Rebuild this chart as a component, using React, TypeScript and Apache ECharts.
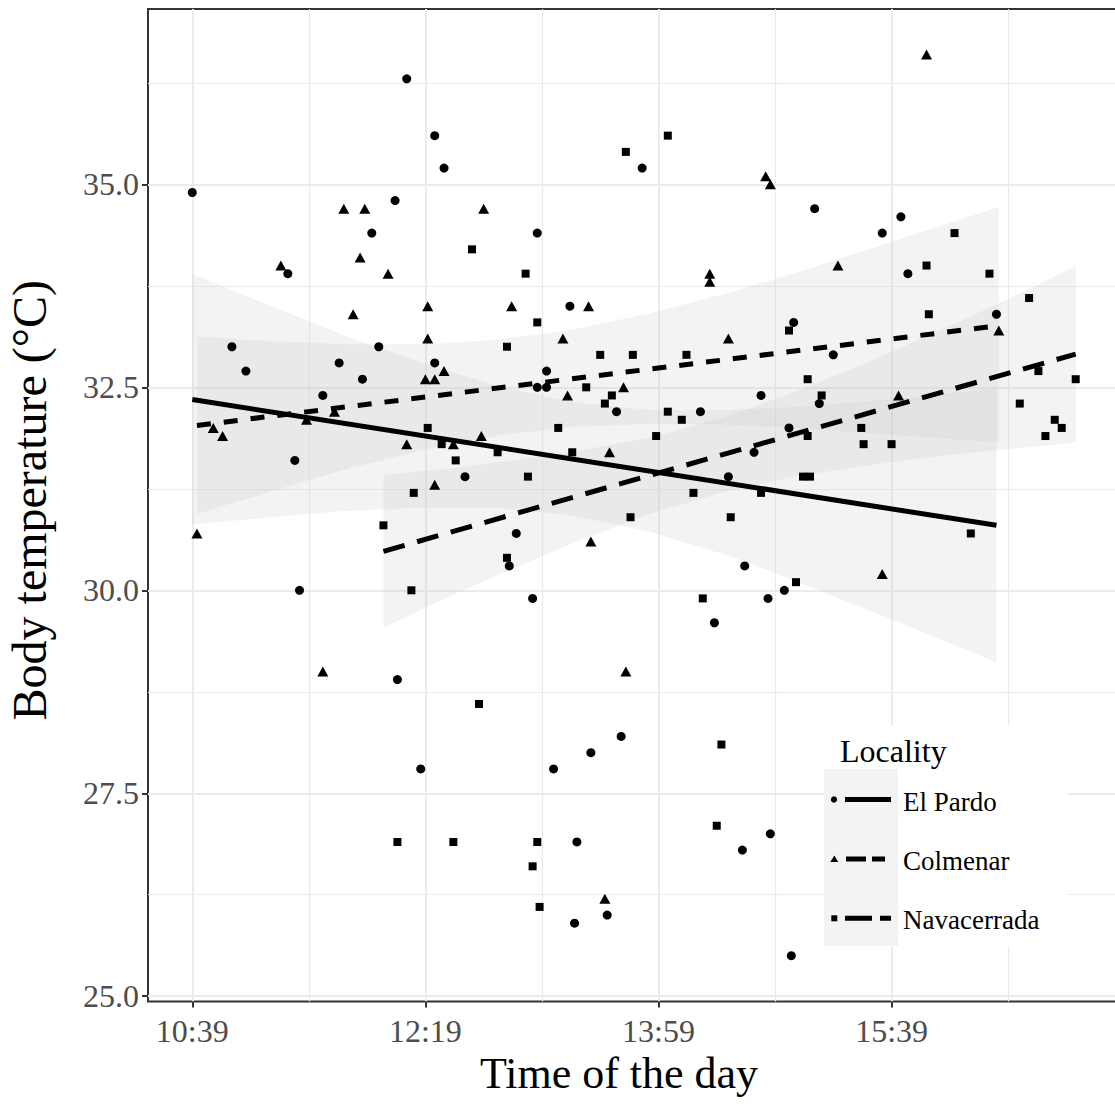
import React, { useEffect, useRef } from "react";
import * as echarts from "echarts";

// ---- data (time "HH:MM", body temperature °C) ----
const elPardoPoints: [string, number][] = [
  ["10:39", 34.9], ["12:11", 36.3], ["12:23", 35.6], ["12:27", 35.2], ["12:06", 34.8],
  ["11:56", 34.4], ["11:20", 33.9], ["13:52", 35.2], ["13:07", 34.4], ["13:21", 33.5],
  ["15:06", 34.7], ["15:43", 34.6], ["15:35", 34.4], ["15:46", 33.9], ["16:24", 33.4],
  ["14:57", 33.3], ["10:56", 33.0], ["11:02", 32.7], ["11:42", 32.8], ["11:59", 33.0],
  ["11:52", 32.6], ["12:23", 32.8], ["11:35", 32.4], ["11:23", 31.6], ["12:36", 31.4],
  ["11:25", 30.0], ["13:11", 32.7], ["13:07", 32.5], ["13:11", 32.5], ["13:41", 32.2],
  ["14:17", 32.2], ["14:43", 32.4], ["14:55", 32.0], ["14:40", 31.7], ["14:29", 31.4],
  ["12:58", 30.7], ["12:55", 30.3], ["13:05", 29.9], ["14:36", 30.3], ["14:23", 29.6],
  ["14:46", 29.9], ["14:53", 30.0], ["15:14", 32.9], ["15:08", 32.3], ["12:07", 28.9],
  ["12:17", 27.8], ["13:43", 28.2], ["13:30", 28.0], ["13:14", 27.8], ["13:24", 26.9],
  ["13:23", 25.9], ["13:37", 26.0], ["14:35", 26.8], ["14:47", 27.0], ["14:56", 25.5],
];

const colmenarPoints: [string, number][] = [
  ["11:44", 34.7], ["11:53", 34.7], ["11:51", 34.1], ["11:17", 34.0], ["12:03", 33.9],
  ["11:48", 33.4], ["12:20", 33.5], ["12:20", 33.1], ["12:44", 34.7], ["12:56", 33.5],
  ["13:29", 33.5], ["13:18", 33.1], ["14:29", 33.1], ["14:21", 33.9], ["14:21", 33.8],
  ["14:45", 35.1], ["14:47", 35.0], ["15:54", 36.6], ["15:16", 34.0], ["16:25", 33.2],
  ["15:42", 32.4], ["15:35", 30.2], ["10:48", 32.0], ["10:52", 31.9], ["11:28", 32.1],
  ["11:40", 32.2], ["12:19", 32.6], ["12:23", 32.6], ["12:27", 32.7], ["12:11", 31.8],
  ["12:31", 31.8], ["12:23", 31.3], ["10:41", 30.7], ["11:35", 29.0], ["12:43", 31.9],
  ["13:20", 32.4], ["13:44", 32.5], ["13:38", 31.7], ["13:30", 30.6], ["13:45", 29.0],
  ["13:36", 26.2],
];

const navacerradaPoints: [string, number][] = [
  ["12:39", 34.2], ["14:03", 35.6], ["13:45", 35.4], ["13:02", 33.9], ["13:07", 33.3],
  ["14:55", 33.2], ["16:06", 34.4], ["15:54", 34.0], ["16:21", 33.9], ["16:38", 33.6],
  ["15:55", 33.4], ["12:54", 33.0], ["13:34", 32.9], ["13:48", 32.9], ["14:11", 32.9],
  ["13:28", 32.5], ["13:39", 32.4], ["13:36", 32.3], ["14:03", 32.2], ["14:09", 32.1],
  ["13:16", 32.0], ["12:50", 31.7], ["13:22", 31.7], ["13:58", 31.9], ["13:03", 31.4],
  ["14:14", 31.2], ["14:43", 31.2], ["13:47", 30.9], ["14:30", 30.9], ["12:54", 30.4],
  ["14:18", 29.9], ["14:58", 30.1], ["15:03", 32.6], ["15:09", 32.4], ["15:03", 31.9],
  ["15:26", 32.0], ["15:27", 31.8], ["15:39", 31.8], ["15:01", 31.4], ["15:04", 31.4],
  ["16:13", 30.7], ["16:42", 32.7], ["16:58", 32.6], ["16:34", 32.3], ["16:49", 32.1],
  ["16:52", 32.0], ["16:45", 31.9], ["12:20", 32.0], ["12:26", 31.8], ["12:32", 31.6],
  ["12:14", 31.2], ["12:01", 30.8], ["12:13", 30.0], ["12:07", 26.9], ["12:31", 26.9],
  ["12:42", 28.6], ["14:26", 28.1], ["13:07", 26.9], ["13:05", 26.6], ["13:08", 26.1],
  ["14:24", 27.1],
];

// fitted lines (start, end)
const elPardoFit: [string, number][] = [["10:39", 32.35], ["16:24", 30.8]];
const colmenarFit: [string, number][] = [["10:41", 32.03], ["16:25", 33.26]];
const navacerradaFit: [string, number][] = [["12:01", 30.48], ["16:58", 32.91]];

// confidence bands
const elPardoBandTimes = ["10:39", "11:12", "11:46", "12:21", "12:51", "13:22", "13:55", "14:30", "14:59", "15:42", "16:24"];
const elPardoBandUpper = [33.9, 33.51, 33.12, 32.77, 32.51, 32.32, 32.22, 32.22, 32.26, 32.36, 32.49];
const elPardoBandLower = [30.81, 30.9, 30.98, 31.02, 31.01, 30.92, 30.72, 30.42, 30.1, 29.61, 29.11];

const colmenarBandTimes = ["10:41", "11:12", "11:46", "12:21", "12:51", "13:22", "13:55", "14:30", "14:59", "15:42", "16:25"];
const colmenarBandUpper = [33.13, 33.07, 33.03, 33.03, 33.09, 33.21, 33.41, 33.67, 33.92, 34.32, 34.72];
const colmenarBandLower = [30.94, 31.21, 31.5, 31.75, 31.91, 32.01, 32.05, 32.04, 32.0, 31.91, 31.82];

const navacerradaBandTimes = ["12:01", "12:29", "12:51", "13:23", "13:55", "14:27", "14:59", "15:32", "16:04", "16:30", "16:58"];
const navacerradaBandUpper = [31.42, 31.5, 31.58, 31.71, 31.88, 32.13, 32.46, 32.85, 33.26, 33.6, 33.99];
const navacerradaBandLower = [29.54, 29.92, 30.2, 30.59, 30.94, 31.21, 31.41, 31.55, 31.67, 31.74, 31.82];

// axes
const xTickLabels = ["10:39", "12:19", "13:59", "15:39"];
const xMinorTicks = ["11:29", "13:09", "14:49", "16:29"];
const yTicks = [25, 27.5, 30, 32.5, 35];
const yMinorTicks = [26.25, 28.75, 31.25, 33.75, 36.25];
const legendNames = ["El Pardo", "Colmenar", "Navacerrada"];

const X_MIN = 620;
const X_MAX = 1037;
const Y_MIN = 24.935;
const Y_MAX = 37.16;

const FONT = '"Liberation Serif", "Times New Roman", serif';
const BAND_FILL = "rgba(200,200,200,0.22)";
const KEY_FILL = "#f3f3f3";

const toMin = (t: string) => {
  const [h, m] = t.split(":").map(Number);
  return h * 60 + m;
};
const fmtTime = (v: number) => {
  const h = Math.floor(v / 60);
  const m = Math.round(v - h * 60);
  return `${h}:${String(m).padStart(2, "0")}`;
};
const pts = (arr: [string, number][]) => arr.map(([t, v]) => [toMin(t), v]);

function bandSeries(times: string[], upper: number[], lower: number[]) {
  const data = times.map((t, i) => [toMin(t), lower[i], upper[i]]);
  return {
    type: "custom",
    silent: true,
    data,
    encode: { x: 0, y: [1, 2] },
    renderItem: (params: any, api: any) => {
      if (params.dataIndex !== 0) return null;
      const up = data.map((d) => api.coord([d[0], d[2]]));
      const lo = data.map((d) => api.coord([d[0], d[1]])).reverse();
      return {
        type: "polygon",
        shape: { points: up.concat(lo) },
        style: { fill: BAND_FILL, stroke: "none" },
      };
    },
  };
}

export default function App() {
  const ref = useRef<HTMLDivElement>(null);
  useEffect(() => {
    if (!ref.current) return;
    const chart = echarts.init(ref.current, undefined, { renderer: "svg" });
    const legendY = [799.5, 859, 918.3];
    const option: any = {
      animation: false,
      backgroundColor: "#ffffff",
      grid: {
        left: 148,
        top: 9,
        width: 972,
        bottom: 102.5,
        show: true,
        borderColor: "#333333",
        borderWidth: 2,
        backgroundColor: "transparent",
        containLabel: false,
        outerBoundsMode: "none",
      },
      xAxis: [
        {
          type: "value",
          min: X_MIN,
          max: X_MAX,
          position: "bottom",
          name: "Time of the day",
          nameLocation: "middle",
          nameGap: 49,
          nameTextStyle: { fontFamily: FONT, fontSize: 44, color: "#000", padding: [0, 30, 0, 0] },
          axisLine: { show: false },
          axisTick: {
            show: true,
            length: 6,
            lineStyle: { color: "#333", width: 2 },
            customValues: xTickLabels.map(toMin),
          },
          axisLabel: {
            show: true,
            margin: 13,
            fontFamily: FONT,
            fontSize: 32,
            color: "#4d4d4d",
            customValues: xTickLabels.map(toMin),
            formatter: (v: number) => fmtTime(v),
          },
          splitLine: { show: true, lineStyle: { color: "#ebebeb", width: 2 } },
        },
        {
          type: "value",
          min: X_MIN,
          max: X_MAX,
          position: "bottom",
          axisLine: { show: false },
          axisTick: { show: false, customValues: xMinorTicks.map(toMin) },
          axisLabel: { show: false, customValues: xMinorTicks.map(toMin) },
          splitLine: { show: true, lineStyle: { color: "#ebebeb", width: 1.2 } },
        },
      ],
      yAxis: [
        {
          type: "value",
          min: Y_MIN,
          max: Y_MAX,
          name: "Body temperature (°C)",
          nameLocation: "middle",
          nameGap: 95,
          nameTextStyle: { fontFamily: FONT, fontSize: 48, color: "#000", padding: [0, 0, 0, 10] },
          axisLine: { show: false },
          axisTick: {
            show: true,
            length: 6,
            lineStyle: { color: "#333", width: 2 },
            customValues: yTicks,
          },
          axisLabel: {
            show: true,
            margin: 9,
            fontFamily: FONT,
            fontSize: 32,
            color: "#4d4d4d",
            customValues: yTicks,
            formatter: (v: number) => v.toFixed(1),
          },
          splitLine: { show: true, lineStyle: { color: "#ebebeb", width: 2 } },
        },
        {
          type: "value",
          min: Y_MIN,
          max: Y_MAX,
          position: "left",
          axisLine: { show: false },
          axisTick: { show: false, customValues: yMinorTicks },
          axisLabel: { show: false, customValues: yMinorTicks },
          splitLine: { show: true, lineStyle: { color: "#ebebeb", width: 1.2 } },
        },
      ],
      series: [
        {
          name: "El Pardo",
          type: "scatter",
          data: pts(elPardoPoints),
          symbol: "circle",
          symbolSize: 9,
          itemStyle: { color: "#000", opacity: 1 },
        },
        {
          name: "Colmenar",
          type: "scatter",
          data: pts(colmenarPoints),
          symbol: "triangle",
          symbolSize: [11, 10],
          itemStyle: { color: "#000", opacity: 1 },
        },
        {
          name: "Navacerrada",
          type: "scatter",
          data: pts(navacerradaPoints),
          symbol: "rect",
          symbolSize: 8,
          itemStyle: { color: "#000", opacity: 1 },
        },
        bandSeries(elPardoBandTimes, elPardoBandUpper, elPardoBandLower),
        bandSeries(colmenarBandTimes, colmenarBandUpper, colmenarBandLower),
        bandSeries(navacerradaBandTimes, navacerradaBandUpper, navacerradaBandLower),
        {
          type: "line",
          data: pts(elPardoFit),
          symbol: "none",
          silent: true,
          lineStyle: { color: "#000", width: 5, type: "solid", cap: "butt" },
        },
        {
          type: "line",
          data: pts(colmenarFit),
          symbol: "none",
          silent: true,
          lineStyle: { color: "#000", width: 5, type: [14, 13], cap: "butt" },
        },
        {
          type: "line",
          data: pts(navacerradaFit),
          symbol: "none",
          silent: true,
          lineStyle: { color: "#000", width: 5, type: [22, 13], cap: "butt" },
        },
      ],
      graphic: [
        {
          type: "group",
          z: 100,
          children: [
            { type: "rect", z: 100, shape: { x: 824, y: 725, width: 244, height: 222 }, style: { fill: "#fff" } },
            { type: "rect", z: 101, shape: { x: 824, y: 769, width: 74, height: 177 }, style: { fill: KEY_FILL } },
            {
              type: "text",
              z: 102,
              x: 840,
              y: 751,
              style: { text: "Locality", fontFamily: FONT, fontSize: 32, fill: "#000", verticalAlign: "middle" },
            },
            // El Pardo key
            { type: "circle", z: 102, shape: { cx: 834, cy: legendY[0], r: 3.2 }, style: { fill: "#000" } },
            { type: "line", z: 102, shape: { x1: 845, y1: legendY[0], x2: 891, y2: legendY[0] }, style: { stroke: "#000", lineWidth: 5 } },
            // Colmenar key
            {
              type: "polygon",
              z: 102,
              shape: { points: [[830.3, legendY[1] + 3], [838.3, legendY[1] + 3], [834.3, legendY[1] - 3.5]] },
              style: { fill: "#000" },
            },
            {
              type: "line",
              z: 102,
              shape: { x1: 846, y1: legendY[1], x2: 885, y2: legendY[1] },
              style: { stroke: "#000", lineWidth: 5, lineDash: [20, 6] },
            },
            // Navacerrada key
            { type: "rect", z: 102, shape: { x: 831.3, y: legendY[2] - 3, width: 6, height: 6 }, style: { fill: "#000" } },
            {
              type: "line",
              z: 102,
              shape: { x1: 845, y1: legendY[2], x2: 891, y2: legendY[2] },
              style: { stroke: "#000", lineWidth: 5, lineDash: [27, 8] },
            },
            ...legendNames.map((n, i) => ({
              type: "text",
              z: 102,
              x: 903,
              y: legendY[i] + 2,
              style: { text: n, fontFamily: FONT, fontSize: 27, fill: "#000", verticalAlign: "middle" },
            })),
          ],
        },
      ],
    };
    chart.setOption(option);
    return () => chart.dispose();
  }, []);
  return (
    <div
      ref={ref}
      style={{ position: "absolute", left: 0, top: 0, width: 1115, height: 1104, background: "#fff" }}
    />
  );
}
